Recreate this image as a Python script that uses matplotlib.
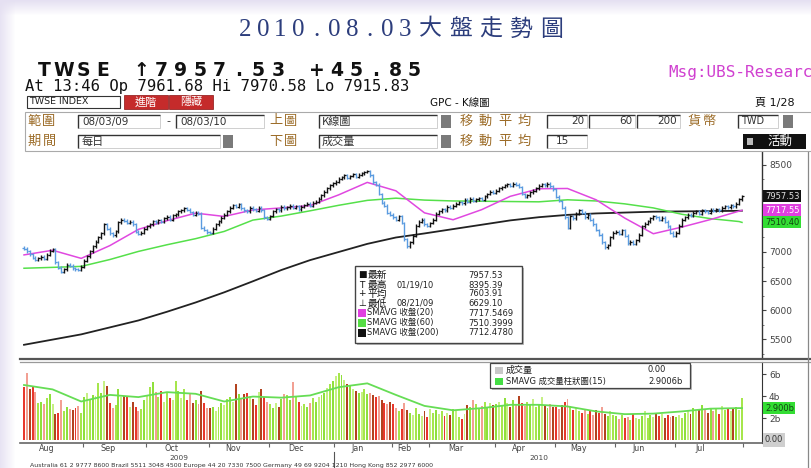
import numpy as np
import pandas as pd
import matplotlib
matplotlib.use("Agg")
import matplotlib.pyplot as plt
from matplotlib.patches import Rectangle
from matplotlib.ticker import MultipleLocator
from matplotlib.transforms import blended_transform_factory

plt.rcParams['font.family'] = ['DejaVu Sans', 'Noto Sans CJK TC']

# ---------------- data ----------------
start_date, end_date = "2009-08-03", "2010-08-03"
holidays = ["2010-01-01", "2010-02-11", "2010-02-12", "2010-02-15", "2010-02-16",
            "2010-02-17", "2010-02-18", "2010-02-19", "2010-04-05", "2010-06-16"]
month_names = ["Aug", "Sep", "Oct", "Nov", "Dec", "Jan", "Feb", "Mar", "Apr", "May", "Jun", "Jul"]
prev_close_start = 7077

close_2009_08 = [7060, 7010, 6960, 6900, 6870, 6890, 6920, 6880, 6950, 7020, 7050, 6820, 6730, 6660,
                 6700, 6780, 6760, 6720, 6700, 6690, 6750]
close_2009_09 = [6850, 6930, 7010, 7100, 7180, 7250, 7320, 7480, 7400, 7320, 7290, 7360, 7510, 7560,
                 7540, 7500, 7520, 7480, 7350, 7310, 7330, 7400]
close_2009_10 = [7440, 7480, 7530, 7510, 7550, 7520, 7580, 7610, 7560, 7630, 7650, 7700, 7720, 7750,
                 7730, 7690, 7640, 7680, 7660, 7420, 7380, 7340]
close_2009_11 = [7330, 7400, 7480, 7530, 7590, 7640, 7700, 7760, 7810, 7780, 7820, 7750, 7720, 7700,
                 7760, 7740, 7710, 7760, 7720, 7600, 7570]
close_2009_12 = [7620, 7700, 7740, 7720, 7780, 7750, 7770, 7800, 7760, 7790, 7740, 7780, 7810, 7830,
                 7800, 7850, 7870, 7920, 7980, 8040, 8100, 8150, 8188]
close_2010_01 = [8210, 8260, 8290, 8320, 8280, 8310, 8340, 8300, 8330, 8360, 8380, 8395, 8320, 8200,
                 8160, 8000, 7850, 7800, 7680, 7640]
close_2010_02 = [7600, 7560, 7620, 7500, 7220, 7100, 7170, 7280, 7450, 7520, 7560, 7480, 7450]
close_2010_03 = [7500, 7560, 7660, 7700, 7740, 7720, 7780, 7760, 7800, 7830, 7860, 7840, 7900, 7870,
                 7920, 7880, 7910, 7930, 7900, 7960, 8000, 8040, 8020]
close_2010_04 = [8060, 8100, 8120, 8150, 8170, 8140, 8180, 8160, 8120, 8000, 7950, 7980, 8030, 8060,
                 8100, 8140, 8170, 8150, 8180, 8130, 8080]
close_2010_05 = [7950, 7880, 7760, 7600, 7420, 7620, 7580, 7660, 7720, 7680, 7600, 7640, 7560, 7480,
                 7380, 7300, 7170, 7080, 7120, 7250, 7330]
close_2010_06 = [7350, 7310, 7380, 7280, 7150, 7180, 7140, 7200, 7300, 7440, 7490, 7530, 7580, 7620,
                 7600, 7560, 7590, 7520, 7440, 7330, 7280]
close_2010_07 = [7330, 7450, 7560, 7600, 7640, 7620, 7680, 7700, 7660, 7720, 7700, 7680, 7730, 7710,
                 7740, 7720, 7760, 7790, 7770, 7810, 7790, 7830]
close_2010_08 = [7911.68, 7957.53]

vol_2009_08 = [4.8, 6.1, 4.6, 4.9, 4.4, 3.4, 3.5, 3.3, 3.8, 4.2, 3.3, 2.4, 2.5, 3.6, 2.6, 3.0, 2.8,
               2.7, 2.9, 3.1, 2.5]
vol_2009_09 = [3.9, 4.3, 3.7, 4.1, 4.0, 5.2, 4.3, 5.4, 4.9, 3.4, 2.9, 3.2, 4.6, 3.9, 4.0, 3.9, 3.0,
               3.5, 3.0, 2.6, 2.8, 3.6]
vol_2009_10 = [4.0, 4.8, 5.3, 4.4, 3.9, 4.5, 3.5, 4.3, 3.8, 3.6, 5.4, 4.5, 3.8, 4.6, 3.6, 4.2, 3.4,
               3.6, 3.3, 4.5, 3.4, 2.9]
vol_2009_11 = [2.9, 3.0, 2.6, 3.0, 3.4, 3.2, 3.7, 3.9, 3.5, 5.1, 4.2, 3.8, 4.2, 4.3, 4.0, 3.7, 3.2,
               4.4, 4.6, 3.9, 3.5]
vol_2009_12 = [3.3, 2.9, 3.4, 3.0, 3.7, 4.2, 4.1, 3.6, 5.3, 3.9, 3.5, 3.1, 3.3, 3.0, 3.4, 3.8, 3.5,
               3.9, 4.1, 4.3, 4.7, 5.1, 5.4]
vol_2010_01 = [5.8, 6.1, 5.9, 5.5, 5.1, 5.0, 4.6, 4.5, 4.3, 4.4, 4.6, 4.2, 4.3, 4.1, 3.9, 4.0, 3.6,
               3.4, 3.3, 3.5]
vol_2010_02 = [3.3, 2.9, 2.6, 2.8, 3.4, 2.7, 2.5, 2.3, 2.9, 2.4, 2.2, 2.6, 2.1]
vol_2010_03 = [2.8, 2.5, 2.7, 2.4, 2.6, 2.2, 2.5, 2.3, 2.8, 2.6, 2.1, 1.9, 2.4, 3.2, 3.0, 3.6, 3.3,
               2.9, 3.1, 3.5, 3.0, 3.4, 3.2]
vol_2010_04 = [3.3, 3.5, 3.1, 3.8, 3.4, 3.0, 3.6, 3.2, 4.0, 3.4, 3.1, 3.5, 3.3, 3.7, 3.0, 3.2, 3.9,
               3.1, 2.9, 3.3, 3.0]
vol_2010_05 = [3.0, 2.8, 3.2, 3.5, 3.7, 3.1, 2.7, 2.9, 2.6, 2.5, 2.8, 2.4, 2.6, 2.3, 2.7, 2.5, 3.0,
               2.4, 2.2, 2.6, 2.3]
vol_2010_06 = [2.2, 1.9, 2.3, 2.0, 2.1, 1.8, 2.4, 2.0, 1.9, 2.2, 2.6, 2.0, 2.3, 2.1, 2.5, 2.2, 2.4,
               2.0, 2.3, 2.1, 2.2]
vol_2010_07 = [2.1, 2.3, 2.0, 2.5, 2.7, 2.4, 2.9, 2.6, 2.8, 3.2, 2.7, 2.5, 2.9, 2.6, 2.8, 2.4, 3.1,
               2.7, 2.9, 2.6, 2.8, 3.0]
vol_2010_08 = [2.7, 3.8]

# moving averages sampled every 10 trading days (+ last day)
ma_step = 10
ma20_every10 = [6950, 7030, 6890, 7110, 7390, 7540, 7670, 7613, 7725, 7760, 7800, 7985, 8200, 8055,
                7675, 7556, 7730, 7960, 8090, 8095, 7900, 7585, 7315, 7430, 7560, 7705, 7717.55]
ma60_every10 = [6720, 6735, 6752, 6870, 7010, 7125, 7230, 7355, 7550, 7620, 7710, 7805, 7890, 7928,
                7895, 7880, 7875, 7870, 7865, 7900, 7880, 7830, 7760, 7650, 7575, 7525, 7510.40]
ma200_every10 = [5400, 5490, 5580, 5700, 5820, 5970, 6130, 6305, 6495, 6690, 6860, 7000, 7140, 7250,
                 7320, 7395, 7470, 7545, 7600, 7640, 7665, 7680, 7695, 7700, 7705, 7710, 7712.48]
volma15_every10 = [5.0, 4.6, 3.5, 4.1, 3.9, 4.35, 4.2, 3.5, 3.95, 3.85, 4.05, 4.8, 5.15, 4.1, 3.1,
                   2.7, 2.9, 3.2, 3.2, 3.05, 2.6, 2.35, 2.4, 2.6, 2.85, 2.9, 2.9006]

price_ticks = [5500, 6000, 6500, 7000, 7500, 8000, 8500]
price_tick_labels = ["5500", "6000", "6500", "7000", "", "", "8500"]  # 7500/8000 hidden by value boxes
vol_ticks = [2, 4, 6]
vol_tick_labels = ["2b", "4b", "6b"]

last_price, ma20_last, ma60_last, ma200_last = 7957.53, 7717.55, 7510.40, 7712.48
volma_last = 2.9006

legend_rows = [("■", "最新", "", "7957.53"),
               ("T", "最高", "01/19/10", "8395.39"),
               ("+", "平均", "", "7603.91"),
               ("⊥", "最低", "08/21/09", "6629.10")]
sma_rows = [("#e040e0", "SMAVG 收盤(20)", "7717.5469"),
            ("#55dd44", "SMAVG 收盤(60)", "7510.3999"),
            ("#111111", "SMAVG 收盤(200)", "7712.4780")]

title = "2010.08.03大盤走勢圖"
header1 = "TWSE ↑7957.53 +45.85"
header2 = "At 13:46 Op 7961.68 Hi 7970.58 Lo 7915.83"
footer = ("Australia 61 2 9777 8600 Brazil 5511 3048 4500 Europe 44 20 7330 7500 "
          "Germany 49 69 9204 1210 Hong Kong 852 2977 6000")

# ---------------- derived ----------------
close = np.array(close_2009_08 + close_2009_09 + close_2009_10 + close_2009_11 + close_2009_12 +
                 close_2010_01 + close_2010_02 + close_2010_03 + close_2010_04 + close_2010_05 +
                 close_2010_06 + close_2010_07 + close_2010_08, dtype=float)
vol = np.array(vol_2009_08 + vol_2009_09 + vol_2009_10 + vol_2009_11 + vol_2009_12 + vol_2010_01 +
               vol_2010_02 + vol_2010_03 + vol_2010_04 + vol_2010_05 + vol_2010_06 + vol_2010_07 +
               vol_2010_08, dtype=float)
dates = pd.bdate_range(start_date, end_date).drop(pd.to_datetime(holidays))
n = len(dates)
assert n == len(close) == len(vol)
idx = np.arange(n)
opens = np.r_[prev_close_start, close[:-1]]
up = close >= opens
ma_x = list(range(0, n, ma_step))[:len(ma20_every10) - 1] + [n - 1]

W, H = 812, 468
fig = plt.figure(figsize=(W / 100, H / 100), dpi=100)
fig.patch.set_facecolor("white")

PX_L, PX_R = 20, 762
first_px, last_px = 24, 742
ppd = (last_px - first_px) / (n - 1)
xlo = -(first_px - PX_L) / ppd
xhi = (n - 1) + (PX_R - last_px) / ppd

# price axes: y 152..358 px, 7000 at 252 px, 17.24 pts / px
P_TOP, P_BOT = 152, 358
ppx = 17.24
ax = fig.add_axes([PX_L / W, 1 - P_BOT / H, (PX_R - PX_L) / W, (P_BOT - P_TOP) / H])
ax.set_facecolor("none")
ax.set_xlim(xlo, xhi)
ax.set_ylim(7000 - (P_BOT - 252) * ppx, 7000 + (252 - P_TOP) * ppx)

# volume axes: y 362..443 px, 0 at 440, 11 px per b
V_TOP, V_BOT = 362, 443
axv = fig.add_axes([PX_L / W, 1 - V_BOT / H, (PX_R - PX_L) / W, (V_BOT - V_TOP) / H])
axv.set_facecolor("none")
axv.set_xlim(xlo, xhi)
axv.set_ylim(-(V_BOT - 440) / 11, (440 - V_TOP) / 11)

# overlay (pixel coordinates)
ov = fig.add_axes([0, 0, 1, 1])
ov.set_zorder(5)
ov.patch.set_alpha(0)
ov.axis("off")

lav = np.array([0.90, 0.88, 0.95])
top_band = np.zeros((16, 2, 4)); top_band[..., :3] = lav
top_band[..., 3] = np.linspace(1, 0, 16)[:, None]
left_band = np.zeros((2, 16, 4)); left_band[..., :3] = lav
left_band[..., 3] = np.linspace(0.9, 0, 16)[None, :]
ov.imshow(top_band, extent=[0, W, 16, 0], aspect="auto", zorder=0)
ov.imshow(left_band, extent=[0, 16, H, 0], aspect="auto", zorder=0)
ov.set_xlim(0, W)
ov.set_ylim(H, 0)

CJK = ["Noto Sans CJK TC", "DejaVu Sans"]


def T(x, y, s, size=7, color="#222222", ha="left", va="center", family=None, weight="normal", **kw):
    return ov.text(x, y, s, fontsize=size, color=color, ha=ha, va=va,
                   family=family or ["DejaVu Sans", "Noto Sans CJK TC"], fontweight=weight, **kw)


def spaced(xc0, y, s, step, **kw):
    for i, ch in enumerate(s):
        T(xc0 + i * step, y, ch, ha="center", **kw)


def inbox(x0, x1, y0, y1):
    ov.add_patch(Rectangle((x0, y0), x1 - x0, y1 - y0, fc="white", ec="#c8c8c8", lw=0.6, zorder=2))
    ov.plot([x0, x0, x1], [y1, y0, y0], color="#333333", lw=1.0, zorder=3, solid_capstyle="butt")


def square(x0, x1, y0, y1, color):
    ov.add_patch(Rectangle((x0, y0), x1 - x0, y1 - y0, fc=color, ec="none", zorder=3))


# ---- title ----
title_digits, title_cjk = title[:10], title[10:]
spaced(245, 30, title_digits, 17.8, size=18, color="#2c3d7c", family=["Liberation Serif"])
spaced(430, 29, title_cjk, 30.5, size=16.5, color="#2c3d7c", family=CJK)

# ---- header ----
spaced(44, 70, header1, 19.5, size=13.5, color="#111111", weight="bold", family=["DejaVu Sans"])
T(668, 72, "Msg:UBS-Researc", size=11.5, color="#d040d0", family=["DejaVu Sans Mono"])
T(25, 87, header2, size=11.2, color="#111111", family=["DejaVu Sans Mono"])

ov.add_patch(Rectangle((27, 96), 93, 12, fc="white", ec="#333333", lw=0.8, zorder=2))
T(29, 102, "TWSE INDEX", size=6.8, color="#222222")
for x0, lab in [(124, "進階"), (169, "隱藏")]:
    ov.add_patch(Rectangle((x0, 95), 44, 14, fc="#c52b2b", ec="#8a1010", lw=0.5, zorder=2))
    T(x0 + 22, 102, lab, size=8, color="white", ha="center", family=CJK)
T(430, 103, "GPC - K線圖", size=7.5, color="#111111")
T(755, 103, "頁 1/28", size=8, color="#111111")

ov.add_patch(Rectangle((25, 112), W - 25, 39, fc="white", ec="#aaaaaa", lw=0.8, zorder=1))
brown = "#9c6c28"
spaced(34, 121, "範圍", 15, size=9.5, color=brown, family=CJK)
spaced(34, 141, "期間", 15, size=9.5, color=brown, family=CJK)
spaced(276, 121, "上圖", 15, size=9.5, color=brown, family=CJK)
spaced(276, 141, "下圖", 15, size=9.5, color=brown, family=CJK)
spaced(466, 121, "移動平均", 19.5, size=9.5, color=brown, family=CJK)
spaced(466, 141, "移動平均", 19.5, size=9.5, color=brown, family=CJK)
spaced(694, 121, "貨幣", 15, size=9.5, color=brown, family=CJK)

r1, r2 = (115, 128), (135, 148)
inbox(78, 160, *r1); T(82, 121.5, "08/03/09", size=7.5, color="#333333")
T(166, 121.5, "-", size=8, color="#333333")
inbox(176, 264, *r1); T(180, 121.5, "08/03/10", size=7.5, color="#333333")
inbox(319, 437, *r1); T(322, 121.5, "K線圖", size=8, color="#333333", family=CJK)
square(441, 451, 115, 128, "#7a7a7a")
inbox(547, 587, *r1); T(584, 121.5, "20", size=7.5, color="#333333", ha="right")
inbox(589, 635, *r1); T(632, 121.5, "60", size=7.5, color="#333333", ha="right")
inbox(637, 680, *r1); T(677, 121.5, "200", size=7.5, color="#333333", ha="right")
inbox(738, 778, *r1); T(741, 121.5, "TWD", size=7, color="#333333")
square(783, 793, 115, 128, "#7a7a7a")

inbox(78, 220, *r2); T(82, 141.5, "每日", size=8, color="#333333", family=CJK)
square(223, 233, 135, 148, "#7a7a7a")
inbox(319, 437, *r2); T(322, 141.5, "成交量", size=8, color="#333333", family=CJK)
square(441, 451, 135, 148, "#7a7a7a")
inbox(547, 587, *r2); T(556, 141.5, "15", size=7.5, color="#333333")
ov.add_patch(Rectangle((743, 134), 63, 15, fc="#111111", ec="none", zorder=3))
square(747, 753, 138, 145, "#bbbbbb")
T(780, 141.5, "活動", size=9, color="white", ha="center", family=CJK, zorder=4)

# ---- panel frame lines ----
ov.plot([PX_L, W], [358.5, 358.5], color="#555555", lw=1.6, zorder=1)
ov.plot([PX_L, W], [361.5, 361.5], color="#999999", lw=0.9, zorder=1)
ov.plot([808, 808], [152, H], color="#888888", lw=0.9, zorder=1)

# ---- price panel ----
cols = np.where(up, "#111111", "#5a9be0")
lo = np.minimum(opens, close) - 25
hi = np.maximum(opens, close) + 25
ax.vlines(idx, lo, hi, colors=cols, lw=1.0, zorder=3)
ax.hlines(opens, idx - 0.55, idx, colors=cols, lw=0.9, zorder=3)
ax.hlines(close, idx, idx + 0.55, colors=cols, lw=0.9, zorder=3)
ax.plot(ma_x, ma200_every10, color="#222222", lw=1.3, zorder=2)
ax.plot(ma_x, ma60_every10, color="#55e04a", lw=1.1, zorder=2)
ax.plot(ma_x, ma20_every10, color="#e048e0", lw=1.1, zorder=2)

for s in ["left", "top", "bottom"]:
    ax.spines[s].set_visible(False)
ax.spines["right"].set_color("#333333")
ax.spines["right"].set_linewidth(1.0)
ax.set_xticks([])
ax.yaxis.tick_right()
ax.set_yticks(price_ticks)
ax.set_yticklabels(price_tick_labels)
ax.yaxis.set_minor_locator(MultipleLocator(250))
ax.tick_params(axis="y", which="major", direction="out", length=3, width=0.8, colors="#444444",
               labelsize=6.5, pad=2)
ax.tick_params(axis="y", which="minor", direction="out", length=1.5, width=0.6, colors="#666666")

tr = blended_transform_factory(ax.transAxes, ax.transData)
for val, txt, fc, tc in [(last_price, f"{last_price:.2f}", "#111111", "#e0e0e0"),
                         (ma20_last, f"{ma20_last:.2f}", "#e040e0", "white"),
                         (ma60_last, f"{ma60_last:.2f}", "#33dd33", "#114411")]:
    ax.text(1.004, val, txt, transform=tr, fontsize=6, color=tc, ha="left", va="center",
            clip_on=False, zorder=10,
            bbox=dict(boxstyle="square,pad=0.18", fc=fc, ec="none"))

# legend box (price)
ov.add_patch(Rectangle((357, 268), 167, 77, fc="#bbbbbb", ec="none", zorder=5))
ov.add_patch(Rectangle((355, 266), 167, 77, fc="white", ec="#444444", lw=1.0, zorder=6))
row_y = [275, 285, 294, 303.5, 313, 323, 332.5]
for k, (sym, lab, dt, v) in enumerate(legend_rows):
    y = row_y[k]
    T(362, y, sym, size=6.5, color="#111111", ha="center", zorder=7)
    T(368, y, lab, size=7, color="#111111", family=CJK, zorder=7)
    if dt:
        T(397, y, dt, size=6, color="#222222", zorder=7)
    T(468, y, v, size=6, color="#222222", zorder=7)
for k, (c, lab, v) in enumerate(sma_rows):
    y = row_y[4 + k]
    ov.add_patch(Rectangle((358, y - 4), 8, 8, fc=c, ec="none", zorder=7))
    T(367, y, lab, size=6, color="#222222", zorder=7)
    T(468, y, v, size=6, color="#222222", zorder=7)

# ---- volume panel ----
up_cols = ["#8fe03c", "#c6f084", "#a6e64c"]
dn_cols = ["#e8372c", "#f2a093", "#b3421f"]
vcols = [up_cols[i % 3] if up[i] else dn_cols[i % 3] for i in range(n)]
axv.bar(idx, vol, width=0.68, color=vcols, linewidth=0, zorder=2)
axv.plot(ma_x, volma15_every10, color="#66dd55", lw=1.3, zorder=3)

axv.spines["left"].set_visible(False)
axv.spines["top"].set_visible(False)
axv.spines["right"].set_color("#333333")
axv.spines["bottom"].set_color("#666666")
axv.spines["bottom"].set_linewidth(1.2)
axv.yaxis.tick_right()
axv.set_yticks(vol_ticks)
axv.set_yticklabels(vol_tick_labels)
axv.tick_params(axis="y", direction="out", length=3, width=0.8, colors="#444444", labelsize=6.5, pad=2)

month_key = dates.year * 100 + dates.month
keys = pd.unique(month_key)[:len(month_names)]
centers, bounds = [], []
for k in keys:
    ii = idx[month_key == k]
    centers.append(ii.mean() - 2)
    bounds.append(ii[0] - 0.5)
axv.set_xticks(centers)
axv.set_xticklabels(month_names)
axv.set_xticks(bounds[1:] + [n - 0.5], minor=True)
axv.tick_params(axis="x", which="major", length=0, labelsize=5.8, colors="#444444", pad=1)
axv.tick_params(axis="x", which="minor", length=3, width=0.8, colors="#666666", direction="out")

trv = blended_transform_factory(axv.transAxes, axv.transData)
axv.text(1.004, volma_last, f"{volma_last:.4f}"[:-1] + "b", transform=trv, fontsize=6,
         color="#114411", ha="left", va="center", clip_on=False, zorder=10,
         bbox=dict(boxstyle="square,pad=0.18", fc="#33dd33", ec="none"))
axv.text(1.004, 0, "0.00", transform=trv, fontsize=6, color="#333333", ha="left", va="center",
         clip_on=False, zorder=10, bbox=dict(boxstyle="square,pad=0.25", fc="#cfcfcf", ec="none"))

# year labels
trx = blended_transform_factory(axv.transData, ov.transData)
yr = dates.year
for y_ in [2009, 2010]:
    ii = idx[yr == y_]
    ov.text(ii.mean(), 458.3, str(y_), transform=trx, fontsize=5.3, color="#444444", ha="center",
            va="center")
sep_x = idx[yr == 2010][0] - 0.5
ov.plot([sep_x, sep_x], [452, 468], transform=trx, color="#555555", lw=0.8)

# volume legend
ov.add_patch(Rectangle((492, 365), 200, 25, fc="#bbbbbb", ec="none", zorder=5))
ov.add_patch(Rectangle((490, 363), 200, 25, fc="white", ec="#444444", lw=0.9, zorder=6))
ov.add_patch(Rectangle((495, 366.5), 8, 7, fc="#c8c8c8", ec="none", zorder=7))
T(506, 370, "成交量", size=6.5, color="#222222", family=CJK, zorder=7)
T(648, 370, "0.00", size=6, color="#222222", zorder=7)
ov.add_patch(Rectangle((495, 377.5), 8, 7, fc="#44dd44", ec="none", zorder=7))
T(506, 381, "SMAVG 成交量柱狀圖(15)", size=6, color="#222222", zorder=7)
T(648, 381, "2.9006b", size=6, color="#222222", zorder=7)

# footer line along the bottom edge
T(30, 465.4, footer, size=4.5, color="#333333")

fig.savefig("out.png", dpi=100, facecolor=fig.get_facecolor())
